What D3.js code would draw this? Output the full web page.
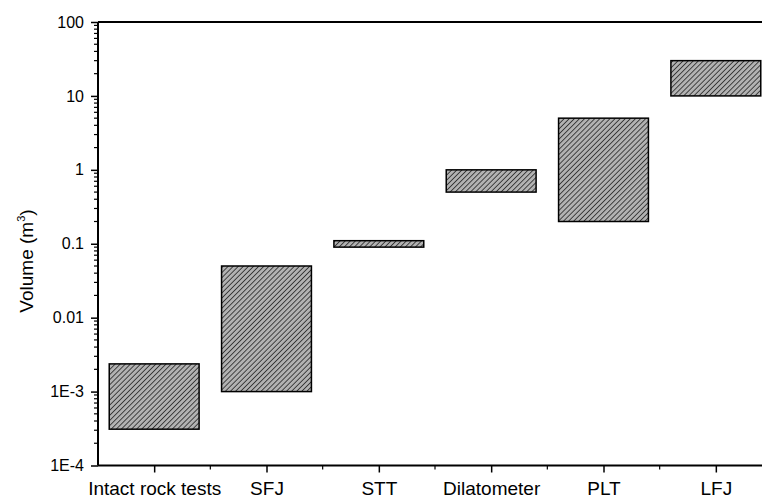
<!DOCTYPE html>
<html><head><meta charset="utf-8">
<script src="https://cdn.jsdelivr.net/npm/d3@7"></script>
<style>body{margin:0;background:#fff}svg{display:block}text{font-family:"Liberation Sans",Arial,sans-serif}</style>
</head><body>
<svg id="c" width="762" height="498"></svg>
<script>
const categories = ["Intact rock tests","SFJ","STT","Dilatometer","PLT","LFJ"];
const lowValues  = [3.1e-4, 1e-3, 0.09, 0.5, 0.2, 10];
const highValues = [2.37e-3, 0.05, 0.11, 1, 5, 30];
const yTickValues = [1e-4, 1e-3, 0.01, 0.1, 1, 10, 100];
const yTickLabels = ["1E-4","1E-3","0.01","0.1","1","10","100"];

(function(){
const svg = d3.select("#c");
const mLeft = 98, mTop = 22, mBottom = 465.5, mRight = 772;

const xc = d3.scalePoint().domain(categories).range([mLeft, mRight]).padding(0.5);
const y = d3.scaleLog().domain([1e-4, 100]).range([mBottom, mTop]);

const defs = svg.append("defs");
const ps = 3.6;
const pat = defs.append("pattern").attr("id","hatch").attr("patternUnits","userSpaceOnUse")
  .attr("width",ps).attr("height",ps).attr("patternTransform","rotate(45)");
pat.append("rect").attr("width",ps).attr("height",ps).attr("fill","#b2b2b2");
pat.append("line").attr("x1",0).attr("y1",0).attr("x2",0).attr("y2",ps).attr("stroke","#111").attr("stroke-width",1.4);

const bw = xc.step()*0.8;
svg.append("g").selectAll("rect").data(categories).join("rect")
  .attr("x", (d)=>xc(d)-bw/2)
  .attr("width", bw)
  .attr("y", (d,i)=>y(highValues[i]))
  .attr("height", (d,i)=>y(lowValues[i])-y(highValues[i]))
  .attr("fill","url(#hatch)").attr("stroke","#000").attr("stroke-width",1.5);

const minorTicks = [];
for (let e=-4; e<2; e++) for (let m=2; m<=9; m++) minorTicks.push(m*Math.pow(10,e));
const yAxis = svg.append("g").attr("transform",`translate(${mLeft},0)`);
yAxis.call(d3.axisLeft(y).tickValues(yTickValues).tickFormat((d,i)=>yTickLabels[i]).tickSize(7).tickPadding(7))
  .call(g=>g.select(".domain").remove());
yAxis.attr("font-size",null).attr("font-family",null);
yAxis.selectAll(".tick line").attr("stroke-width",1.5);
yAxis.selectAll(".tick text").style("font-size","16px").attr("fill","#000");
yAxis.append("g").selectAll("line").data(minorTicks).join("line")
  .attr("x1",-4).attr("x2",0).attr("y1",d=>y(d)).attr("y2",d=>y(d)).attr("stroke","#000").attr("stroke-width",1.2);

const xAxis = svg.append("g").attr("transform",`translate(0,${mBottom})`);
xAxis.call(d3.axisBottom(xc).tickSize(7).tickPadding(9)).call(g=>g.select(".domain").remove());
xAxis.attr("font-size",null).attr("font-family",null);
xAxis.selectAll(".tick line").attr("stroke-width",1.5);
xAxis.selectAll(".tick text").style("font-size","19px").attr("fill","#000");
const xMinor = categories.slice(0,-1).map((d,i)=>(xc(d)+xc(categories[i+1]))/2);
xAxis.append("g").selectAll("line").data(xMinor).join("line")
  .attr("x1",d=>d).attr("x2",d=>d).attr("y1",0).attr("y2",4).attr("stroke","#000").attr("stroke-width",1.2);

svg.append("line").attr("x1",mLeft).attr("x2",mRight).attr("y1",mBottom).attr("y2",mBottom).attr("stroke","#000").attr("stroke-width",2);
svg.append("line").attr("x1",mLeft).attr("x2",mRight).attr("y1",mTop).attr("y2",mTop).attr("stroke","#000").attr("stroke-width",2);
svg.append("line").attr("x1",mLeft).attr("x2",mLeft).attr("y1",mTop).attr("y2",mBottom).attr("stroke","#000").attr("stroke-width",2);

const yl = svg.append("text").attr("transform",`translate(33,261) rotate(-90)`)
  .attr("text-anchor","middle").style("font-size","19px").attr("fill","#000");
yl.append("tspan").text("Volume (m");
yl.append("tspan").text("3").style("font-size","11px").attr("dy",-8);
yl.append("tspan").text(")").attr("dy",8);
})();
</script>
</body></html>
